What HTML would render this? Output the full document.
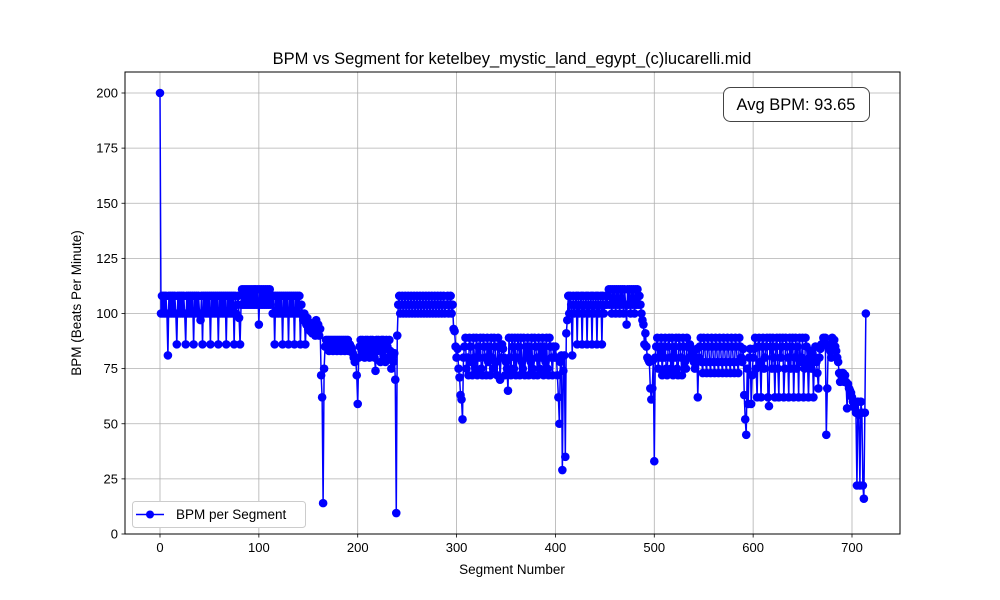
<!DOCTYPE html>
<html><head><meta charset="utf-8"><style>
body{margin:0;background:#fff;}
svg{display:block;font-family:"Liberation Sans","DejaVu Sans",sans-serif;}
</style></head><body>
<svg id="chart" width="1000" height="600" viewBox="0 0 1000 600">
<rect width="1000" height="600" fill="#fff"/>
<text x="512" y="64" text-anchor="middle" font-size="16.5">BPM vs Segment for ketelbey_mystic_land_egypt_(c)lucarelli.mid</text>
<text x="512" y="574" text-anchor="middle" font-size="13.5">Segment Number</text>
<text transform="translate(81,303) rotate(-90)" text-anchor="middle" font-size="13.5">BPM (Beats Per Minute)</text>
<g id="grid"></g>
<g id="ticks"></g>
<g id="series"></g>
<rect x="125" y="72" width="775" height="462" fill="none" stroke="#000" stroke-width="1"/>
<g>
<rect x="723.5" y="87.5" width="146" height="34" rx="7" fill="#fff" stroke="#444" stroke-width="1"/>
<text x="796" y="110" text-anchor="middle" font-size="16.5">Avg BPM: 93.65</text>
</g>
<g>
<rect x="132.5" y="501.5" width="173" height="26" rx="3" fill="#fff" stroke="#ccc" stroke-width="1"/>
<line x1="136" y1="514.5" x2="164" y2="514.5" stroke="#0000ff" stroke-width="1.5"/>
<circle cx="150" cy="514.5" r="4" fill="#0000ff"/>
<text x="176" y="519" font-size="13.5">BPM per Segment</text>
</g>
</svg>
<script>
const xTicks = [0,100,200,300,400,500,600,700];
const yTicks = [0,25,50,75,100,125,150,175,200];
const bpm = [
200,100,108,100,108,100,108,100,81,108,
100,108,100,108,100,108,100,86,108,100,
108,100,108,100,108,100,86,108,100,108,
100,108,100,108,86,108,100,108,100,108,
100,97,108,86,108,100,108,100,108,100,
108,86,108,100,108,100,108,100,108,86,
108,100,108,100,108,100,108,86,108,100,
108,100,108,100,108,86,108,100,104,108,
98,86,104,111,104,111,104,111,104,111,
104,111,104,111,104,111,104,111,104,111,
95,111,104,111,104,111,104,111,104,111,
104,111,104,108,100,108,86,108,100,108,
100,108,100,108,86,108,100,108,100,108,
86,108,100,108,100,108,86,108,100,108,
100,108,86,104,100,97,100,86,95,98,
93,96,92,95,91,94,92,90,97,92,
95,90,93,72,62,14,75,85,88,85,
88,83,88,85,88,83,88,85,88,83,
88,85,88,83,88,85,88,83,88,85,
88,83,86,85,84,82,80,78,79,72,
59,80,85,88,83,88,85,80,88,83,
88,85,80,88,83,88,85,80,74,88,
83,88,85,78,88,83,88,80,78,88,
85,80,88,83,75,80,78,82,70,9.5,
90,104,108,100,104,108,100,104,108,100,
104,108,100,104,108,100,104,108,100,104,
108,100,104,108,100,104,108,100,104,108,
100,104,108,100,104,108,100,104,108,100,
104,108,100,104,108,100,104,108,100,104,
104,108,100,104,108,100,104,93,92,85,
80,84,75,71,63,61,52,80,85,89,
75,80,72,89,85,78,72,89,80,75,
89,72,85,80,89,75,72,89,85,80,
72,89,78,85,72,89,80,75,89,85,
78,72,89,85,70,80,86,84,80,72,
78,75,65,89,80,72,89,85,75,89,
72,80,89,85,72,89,78,75,89,72,
85,80,89,72,85,78,89,75,72,89,
85,80,72,89,75,85,80,89,72,85,
78,89,75,72,89,85,80,72,85,80,
85,80,72,62,50,78,81,29,74,81,
35,91,97,108,100,108,104,81,108,100,
104,108,86,108,100,104,108,86,108,100,
104,108,86,108,100,104,108,86,108,100,
104,108,86,108,100,104,108,86,108,100,
104,108,104,108,111,104,111,100,111,104,
111,100,111,104,111,100,111,104,111,100,
111,104,95,111,104,111,100,111,104,111,
100,111,104,111,104,108,104,100,97,95,
86,91,85,80,79,78,66,61,66,79,
33,80,85,89,75,85,80,89,72,85,
80,89,75,72,85,89,80,75,89,72,
85,80,89,75,72,89,85,80,72,89,
85,78,75,89,85,80,86,84,82,80,
78,75,80,84,62,80,85,89,78,73,
89,85,78,73,89,85,78,73,89,85,
78,73,89,85,78,73,89,85,78,73,
89,85,78,73,89,85,78,73,89,85,
78,73,89,85,78,73,89,85,80,78,
84,63,52,45,75,59,80,84,59,72,
80,84,89,75,62,85,89,78,62,85,
89,75,80,85,89,62,58,89,85,75,
89,80,62,85,89,75,62,89,80,85,
89,62,75,89,85,80,62,89,75,85,
89,62,80,89,75,85,62,89,78,80,
89,62,75,89,85,78,62,80,83,75,
82,62,80,85,78,73,66,80,84,86,
86,89,86,89,45,66,85,86,83,80,
89,86,88,85,83,80,78,73,69,72,
73,73,69,72,69,57,68,66,65,64,
62,60,58,57,55,22,60,54,22,60,
55,22,16,55,100
];
const NS = "http://www.w3.org/2000/svg";
const L = 125, R = 900, T = 72, B = 534;
function xs(v){ return 160 + v * (852 - 160) / 700; }
function ys(v){ return 534 - v * (534 - 93) / 200; }
const grid = document.getElementById('grid');
const ticks = document.getElementById('ticks');
function mk(tag, attrs, parent){ const e = document.createElementNS(NS, tag); for (const k in attrs) e.setAttribute(k, attrs[k]); parent.appendChild(e); return e; }
xTicks.forEach(function(t){
  const x = xs(t);
  const g = mk('line', {x1:x, x2:x, y1:T, y2:B, stroke:'#b0b0b0', 'stroke-width':0.8}, grid);
  
  
  mk('line', {x1:x, x2:x, y1:B, y2:B+3.5, stroke:'#000', 'stroke-width':0.8}, ticks);
  const tx = mk('text', {x:x, y:B+18, 'text-anchor':'middle', 'font-size':13}, ticks);
  tx.textContent = t;
  
  
});
yTicks.forEach(function(t){
  const y = ys(t);
  const g = mk('line', {x1:L, x2:R, y1:y, y2:y, stroke:'#b0b0b0', 'stroke-width':0.8}, grid);
  
  
  mk('line', {x1:L-3.5, x2:L, y1:y, y2:y, stroke:'#000', 'stroke-width':0.8}, ticks);
  const tx = mk('text', {x:L-7, y:y+4.5, 'text-anchor':'end', 'font-size':13}, ticks);
  tx.textContent = t;
  
  
});
const series = document.getElementById('series');
let d = '';
bpm.forEach(function(v, i){ d += (i ? 'L' : 'M') + xs(i).toFixed(2) + ',' + ys(v).toFixed(2); });
const path = mk('path', {d:d, fill:'none', stroke:'#0000ff', 'stroke-width':1.5, 'stroke-linejoin':'round'}, series);


bpm.forEach(function(v, i){
  const c = mk('circle', {cx:xs(i), cy:ys(v), r:4.3, fill:'#0000ff'}, series);
  
  
});
</script>
</body></html>
